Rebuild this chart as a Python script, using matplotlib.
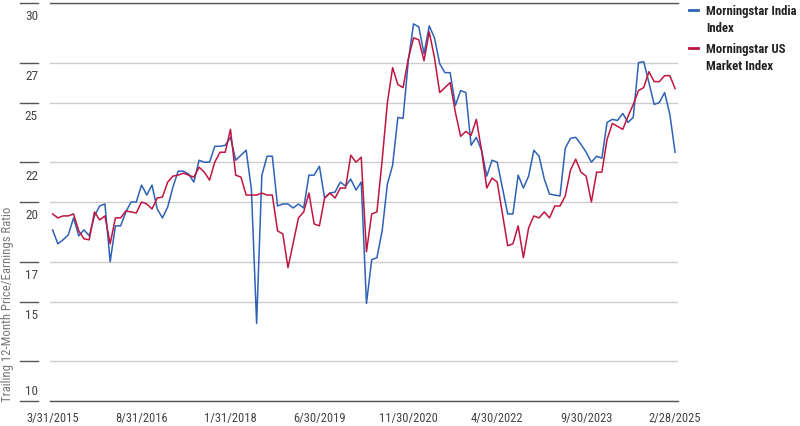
import numpy as np
import matplotlib
matplotlib.use("Agg")
import matplotlib.pyplot as plt
from matplotlib.lines import Line2D
from matplotlib import transforms
from matplotlib import font_manager as fm

#%% data: monthly trailing P/E, 3/31/2015 .. 2/28/2025
dates = ["3/31/2015", "8/31/2016", "1/31/2018", "6/30/2019",
         "11/30/2020", "4/30/2022", "9/30/2023", "2/28/2025"]
date_idx = [0, 17, 34, 51, 68, 85, 102, 119]

india = [
    18.6, 17.9, 18.1, 18.35, 19.2, 18.3, 18.6, 18.3, 19.3, 19.8,
    19.9, 17.0, 18.8, 18.8, 19.5, 20.0, 20.0, 20.85, 20.35, 20.85,
    19.65, 19.2, 19.75, 20.75, 21.55, 21.55, 21.4, 21.0, 22.1, 22.0,
    22.0, 22.8, 22.8, 22.85, 23.25, 22.1, 22.35, 22.6, 20.65, 13.9,
    21.35, 22.3, 22.3, 19.8, 19.9, 19.9, 19.7, 19.9, 19.7, 21.35,
    21.35, 21.8, 20.2, 20.45, 20.5, 21.0, 20.8, 21.15, 20.6, 21.0,
    14.9, 17.1, 17.2, 18.55, 20.9, 21.85, 24.25, 24.2, 27.1, 28.95,
    28.8, 27.45, 28.85, 28.25, 26.95, 26.5, 26.5, 24.85, 25.6, 25.5,
    22.85, 23.25, 22.6, 21.3, 22.1, 22.0, 20.7, 19.4, 19.4, 21.35,
    20.7, 21.3, 22.6, 22.3, 21.15, 20.4, 20.35, 20.3, 22.7, 23.2,
    23.25, 22.9, 22.5, 22.0, 22.3, 22.2, 24.0, 24.15, 24.1, 24.45,
    24.0, 24.25, 27.0, 27.05, 26.0, 24.9, 25.0, 25.5, 24.4, 22.5,
]

us = [
    19.4, 19.2, 19.3, 19.3, 19.4, 18.55, 18.15, 18.1, 19.5, 19.1,
    19.3, 17.9, 19.2, 19.2, 19.55, 19.5, 19.45, 20.0, 19.9, 19.65,
    20.2, 20.25, 21.0, 21.3, 21.35, 21.45, 21.35, 21.25, 21.75, 21.5,
    21.1, 22.0, 22.5, 22.5, 23.65, 21.35, 21.25, 20.35, 20.35, 20.35,
    20.45, 20.35, 20.35, 18.55, 18.4, 16.7, 17.95, 19.2, 19.5, 20.45,
    18.9, 18.8, 20.2, 20.45, 20.2, 20.7, 20.7, 22.35, 22.0, 22.25,
    17.5, 19.4, 19.5, 22.1, 25.0, 26.75, 25.9, 25.75, 27.2, 28.25,
    28.15, 27.1, 28.55, 27.25, 25.5, 25.75, 26.0, 24.5, 23.3, 23.55,
    23.35, 24.15, 22.6, 20.7, 21.2, 21.0, 19.4, 17.8, 17.9, 18.8,
    17.2, 18.7, 19.3, 19.2, 19.5, 19.2, 19.8, 19.8, 20.3, 21.6,
    22.15, 21.5, 21.3, 20.0, 21.5, 21.5, 23.15, 23.95, 23.8, 23.65,
    24.3, 24.9, 25.6, 25.75, 26.55, 26.05, 26.05, 26.35, 26.35, 25.7,
]

yticks = [10, 12, 15, 17, 20, 22, 25, 27, 30]
ylabels = ["10", "", "15", "17", "20", "22", "25", "27", "30"]

series_names = ["Morningstar India\nIndex", "Morningstar US\nMarket Index"]

#%% pick a narrow font if one is installed
avail = {f.name for f in fm.fontManager.ttflist}
narrow = [n for n in ["Liberation Sans Narrow", "Roboto Condensed",
                      "Open Sans Condensed", "Noto Sans Condensed"] if n in avail]
condensed_dejavu = any(f.name == "DejaVu Sans" and "condensed" in str(f.stretch)
                       for f in fm.fontManager.ttflist)
if narrow:
    plt.rcParams["font.family"] = [narrow[0], "DejaVu Sans"]
    scale = 1.0
elif condensed_dejavu:
    plt.rcParams["font.family"] = ["DejaVu Sans"]
    plt.rcParams["font.stretch"] = "condensed"
    scale = 0.95
else:
    plt.rcParams["font.family"] = ["Liberation Sans", "DejaVu Sans"]
    scale = 0.88

blue = "#2e62b5"
red = "#bf1540"
dark = "#555555"
grid = "#cccccc"
tick_col = "#444444"

fig = plt.figure(figsize=(8, 4.27), dpi=100)
W, H = 800, 427
ax = fig.add_axes([50 / W, 25 / H, 627.7 / W, 398 / H])

x = np.arange(len(india))
ax.plot(x, india, color=blue, lw=1.1)
ax.plot(x, us, color=red, lw=1.1)

ax.set_xlim(-0.5, 119.5)
ax.set_ylim(10, 30)

for s in ["left", "right"]:
    ax.spines[s].set_visible(False)
for s in ["top", "bottom"]:
    ax.spines[s].set_color(dark)
    ax.spines[s].set_linewidth(1.0)

ax.set_yticks(yticks)
ax.set_yticklabels([])
ax.tick_params(axis="y", length=0)
ax.grid(axis="y", color=grid, lw=1.0)
ax.set_axisbelow(True)

# short dash left of each gridline, value written under it (10 sits above)
trans = transforms.blended_transform_factory(ax.transAxes, ax.transData)
for v, lab in zip(yticks, ylabels):
    ax.plot([-30 / 627.7, -12 / 627.7], [v, v], transform=trans,
            color=dark, lw=1.0, clip_on=False)
    dy = 10 if v == yticks[0] else -13
    t = transforms.offset_copy(trans, fig=fig, x=0, y=dy, units="dots")
    ax.text(-12 / 627.7, v, lab, transform=t, ha="right", va="center",
            fontsize=9.5 * scale, color=tick_col)

ax.set_xticks(date_idx)
ax.set_xticklabels(dates, fontsize=9 * scale, color=tick_col)
ax.tick_params(axis="x", length=0, pad=7)

fig.text(8 / W, 25 / H, "Trailing 12-Month Price/Earnings Ratio", rotation=90,
         ha="center", va="bottom", fontsize=9.2 * scale, color="#777777")

# legend
for k, (name, c) in enumerate(zip(series_names, [blue, red])):
    ytop = 1 - (11 + 38 * k) / H
    fig.add_artist(Line2D([689 / W, 698 / W], [ytop, ytop], color=c, lw=2.0))
    fig.text(706 / W, ytop, name, ha="left", va="top", fontsize=9.2 * scale,
             fontweight="bold", color="#222222", linespacing=1.45,
             transform=transforms.offset_copy(fig.transFigure, fig=fig, x=0, y=6.5, units="dots"))

fig.savefig("out.png", dpi=100)
